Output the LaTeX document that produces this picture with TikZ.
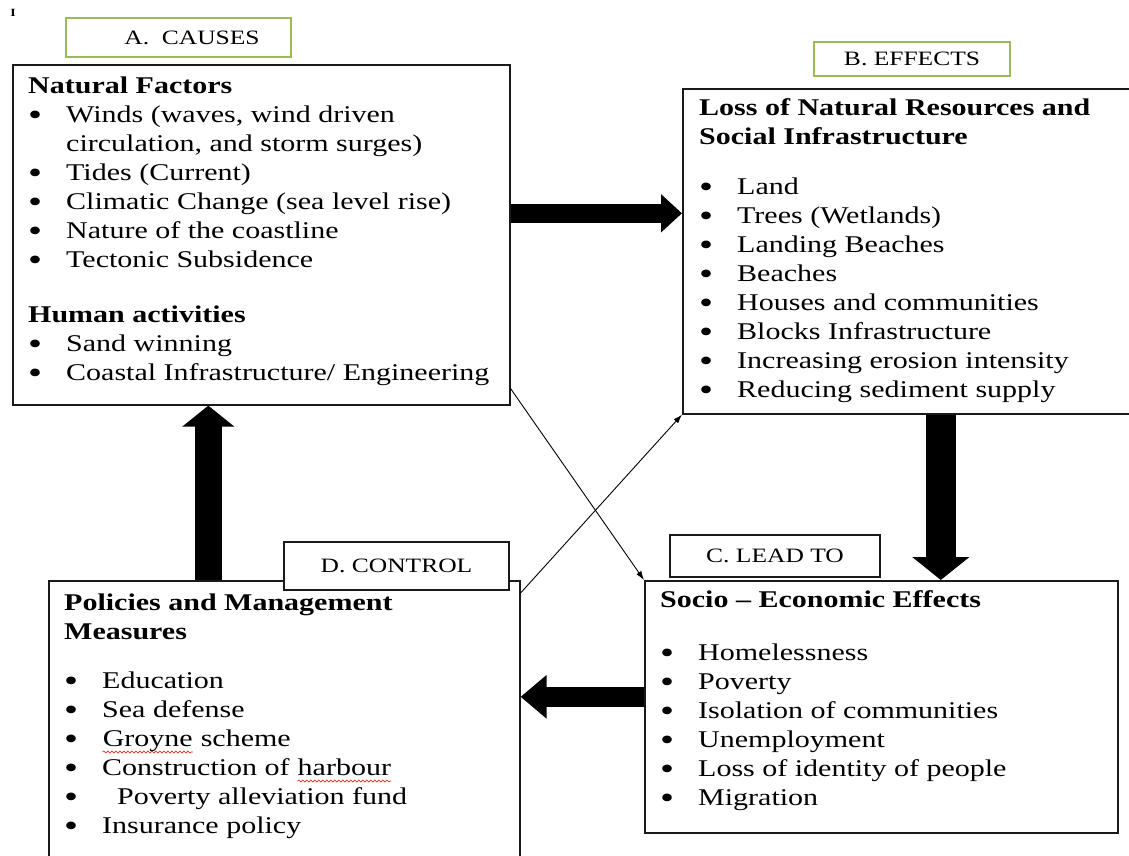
\documentclass[tikz,border=0pt]{standalone}
\usepackage{fontspec}
\setmainfont{Liberation Serif}[FakeStretch=1.25]
\usetikzlibrary{arrows.meta,positioning,calc,decorations.pathmorphing}
\definecolor{tagcol}{HTML}{9BBB59}
\definecolor{inkcol}{HTML}{1A1A1A}
\definecolor{wavecol}{HTML}{E0301E}

\newcommand\bitem[1]{\makebox[38pt][l]{\raisebox{-3pt}{\fontsize{32}{29}\selectfont\textbullet}}#1}
\newcommand\redwave[1]{\tikz[baseline=(w.base)]{\node[inner sep=0pt] (w) {#1};
  \draw[wavecol, line width=0.7pt, decorate, decoration={snake, amplitude=1pt, segment length=4pt}]
    ([yshift=-6pt]w.base west) -- ([yshift=-6pt]w.base east);}}

\begin{document}
\begin{tikzpicture}[
  x=1pt, y=-1pt, >=Latex,
  panel/.style={draw=inkcol, line width=1.6pt, anchor=north west, inner sep=0pt},
  body/.style={anchor=base west, inner sep=0pt, font=\fontsize{24}{29}\selectfont},
  tag/.style={draw=inkcol, fill=white, line width=1.4pt, inner sep=0pt,
    font=\fontsize{20.4}{24}\selectfont},
  heavy/.style n args={3}{line width=#1, -{Triangle[length=#2, width=#3]}},
  link/.style={line width=0.9pt, -{Latex[length=9pt, width=6pt]}}
]
\fill[white] (0,0) rectangle (1129,855);
\useasboundingbox (0,0) rectangle (1129,855);

\node[font=\fontsize{11}{11}\selectfont\bfseries, inner sep=0pt] (mark) at (13,13) {I};

% the four panels
\node[panel, minimum width=497pt, minimum height=340pt] (causes) at (12,64) {};
\node[panel, minimum width=460pt, minimum height=325pt] (effects) at (682,88) {};
\node[panel, minimum width=473pt, minimum height=252pt] (impacts) at (644,580) {};
\node[panel, minimum width=471pt, minimum height=290pt] (control) at (48,580) {};

\node[body] (causes-txt) at ($(causes.north west)+(16,29)$) {\parbox[t]{470pt}{%
  \textbf{Natural Factors}\\
  \bitem{Winds (waves, wind driven}\\
  \hspace*{38pt}circulation, and storm surges)\\
  \bitem{Tides (Current)}\\
  \bitem{Climatic Change (sea level rise)}\\
  \bitem{Nature of the coastline}\\
  \bitem{Tectonic Subsidence}\\[26pt]
  \textbf{Human activities}\\
  \bitem{Sand winning}\\
  \bitem{Coastal Infrastructure/ Engineering}}};

\node[body] (effects-txt) at ($(effects.north west)+(17,27)$) {\parbox[t]{430pt}{%
  \textbf{Loss of Natural Resources and}\\
  \textbf{Social Infrastructure}\\[21pt]
  \bitem{Land}\\
  \bitem{Trees (Wetlands)}\\
  \bitem{Landing Beaches}\\
  \bitem{Beaches}\\
  \bitem{Houses and communities}\\
  \bitem{Blocks Infrastructure}\\
  \bitem{Increasing erosion intensity}\\
  \bitem{Reducing sediment supply}}};

\node[body] (impacts-txt) at ($(impacts.north west)+(16,27)$) {\parbox[t]{440pt}{%
  \textbf{Socio -- Economic Effects}\\[24pt]
  \bitem{Homelessness}\\
  \bitem{Poverty}\\
  \bitem{Isolation of communities}\\
  \bitem{Unemployment}\\
  \bitem{Loss of identity of people}\\
  \bitem{Migration}}};

\node[body] (control-txt) at ($(control.north west)+(16,30)$) {\parbox[t]{440pt}{%
  \textbf{Policies and Management}\\
  \textbf{Measures}\\[20pt]
  \bitem{Education}\\
  \bitem{Sea defense}\\
  \bitem{\redwave{Groyne} scheme}\\
  \bitem{Construction of \redwave{harbour}}\\
  \bitem{\hspace*{15pt}Poverty alleviation fund}\\
  \bitem{Insurance policy}}};

% block arrows round the cycle
\coordinate (ab) at ([yshift=21.5pt]causes.east);
\draw[heavy={19pt}{21pt}{37pt}] (ab) -- (ab -| effects.west);
\coordinate (bc) at ([xshift=28pt]effects.south);
\draw[heavy={30pt}{23pt}{56pt}] (bc) -- (bc |- impacts.north);
\coordinate (cd) at ([yshift=10pt]impacts.west);
\draw[heavy={20pt}{26pt}{42pt}] (cd) -- (cd -| control.east);
\coordinate (da) at ([xshift=-76pt]control.north);
\draw[heavy={27pt}{21pt}{51pt}] (da) -- (da |- causes.south);

% crossing links
\draw[link] ([yshift=17pt]causes.south east) -- (impacts.north west);
\draw[link] ([yshift=-13pt]control.north east) -- (effects.south west);

% headings
\node[tag, draw=tagcol, minimum width=225pt, minimum height=39pt] (tagA) at (178.5,37.5) {\hspace*{27pt}A.\ \ CAUSES};
\node[tag, draw=tagcol, minimum width=196pt, minimum height=34pt] (tagB) at (912,59) {B. EFFECTS};
\node[tag, minimum width=210pt, minimum height=42pt] (tagC) at (775,556) {C. LEAD TO};
\node[tag, minimum width=225pt, minimum height=48pt] (tagD) at (396.5,566) {D. CONTROL};
\end{tikzpicture}
\end{document}
